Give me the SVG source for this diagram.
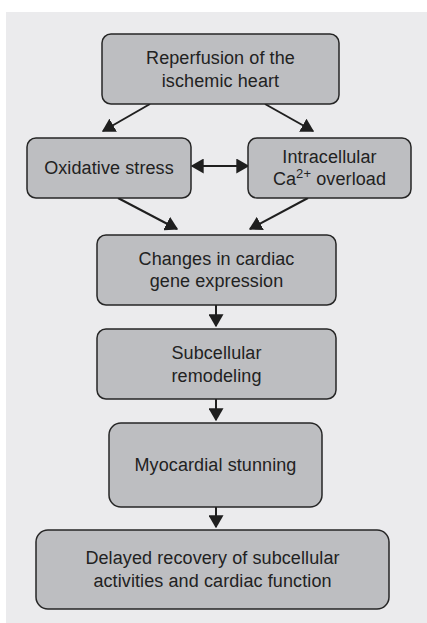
<svg xmlns="http://www.w3.org/2000/svg" width="427" height="623" viewBox="0 0 427 623">
<style>
.box{fill:#bdbec1;stroke:#262626;stroke-width:1.5}
.t{font-family:"Liberation Sans",Arial,sans-serif;font-size:18px;letter-spacing:0.1px;fill:#222222;text-anchor:middle}
.c{stroke:#1f1f1f;stroke-width:2;fill:none}
</style>
<defs>
<marker id="ah" viewBox="0 0 10 10" refX="9" refY="5" markerWidth="13" markerHeight="15" preserveAspectRatio="none" markerUnits="userSpaceOnUse" orient="auto-start-reverse">
<path d="M0,0 L10,5 L0,10 z" fill="#1f1f1f"/>
</marker>
</defs>
<rect x="6" y="12" width="421" height="611" fill="#ebebed"/>
<g id="connectors">
<line class="c" x1="150" y1="104" x2="103" y2="131" marker-end="url(#ah)"/>
<line class="c" x1="265" y1="104" x2="313" y2="131" marker-end="url(#ah)"/>
<line class="c" x1="192" y1="166" x2="248" y2="166" marker-start="url(#ah)" marker-end="url(#ah)"/>
<line class="c" x1="118" y1="198" x2="177" y2="229" marker-end="url(#ah)"/>
<line class="c" x1="308" y1="198" x2="250" y2="229" marker-end="url(#ah)"/>
<line class="c" x1="216" y1="305" x2="216" y2="326" marker-end="url(#ah)"/>
<line class="c" x1="216" y1="399" x2="216" y2="420" marker-end="url(#ah)"/>
<line class="c" x1="216" y1="507" x2="216" y2="527" marker-end="url(#ah)"/>
</g>
<g id="reperfusion">
<rect class="box" x="102" y="34" width="237" height="70" rx="9"/>
<text class="t" x="220.5" y="64">Reperfusion of the</text>
<text class="t" x="220.5" y="87">ischemic heart</text>
</g>
<g id="oxidative">
<rect class="box" x="27" y="138" width="164" height="60" rx="9"/>
<text class="t" x="109" y="174">Oxidative stress</text>
</g>
<g id="calcium">
<rect class="box" x="248" y="138" width="163" height="60" rx="9"/>
<text class="t" x="329.5" y="163">Intracellular</text>
<text class="t" x="329.5" y="185">Ca<tspan font-size="13" dy="-7">2+</tspan><tspan dy="7"> overload</tspan></text>
</g>
<g id="gene">
<rect class="box" x="97" y="235" width="239" height="70" rx="9"/>
<text class="t" x="216.5" y="265">Changes in cardiac</text>
<text class="t" x="216.5" y="287">gene expression</text>
</g>
<g id="remodeling">
<rect class="box" x="97" y="329" width="239" height="70" rx="9"/>
<text class="t" x="216.5" y="359">Subcellular</text>
<text class="t" x="216.5" y="382">remodeling</text>
</g>
<g id="stunning">
<rect class="box" x="109" y="423" width="213" height="84" rx="12"/>
<text class="t" x="215.5" y="471">Myocardial stunning</text>
</g>
<g id="recovery">
<rect class="box" x="36" y="530" width="353" height="79" rx="12"/>
<text class="t" x="212.5" y="564">Delayed recovery of subcellular</text>
<text class="t" x="212.5" y="587">activities and cardiac function</text>
</g>
</svg>
